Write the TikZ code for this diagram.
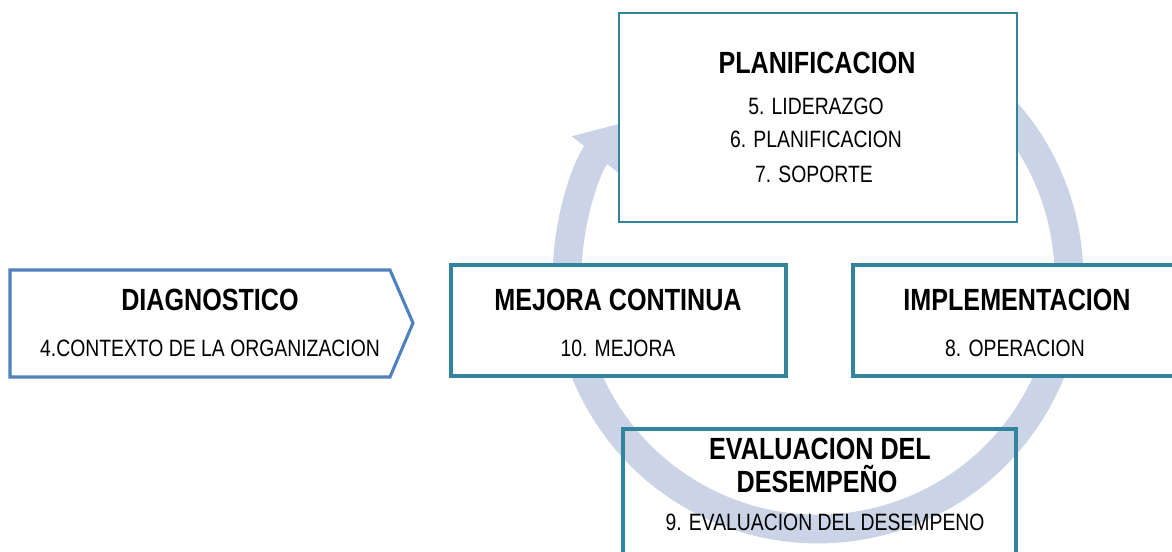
\documentclass[tikz,border=0pt]{standalone}
\usepackage{fontspec}
\setmainfont{Liberation Sans}[FakeStretch=0.82]
\usetikzlibrary{arrows.meta}
\begin{document}
\begin{tikzpicture}[x=0.025cm,y=0.025cm,
  titulo/.style={font=\fontsize{21.8}{26}\selectfont\bfseries,anchor=base,inner sep=0pt},
  item/.style={font=\fontsize{16.8}{20}\selectfont,anchor=base,inner sep=0pt},
  caja/.style={draw=caja_azul,line width=2.2pt},
  anillo/.style={draw=anillo_gris,line width=0.72cm,-{Triangle[width=1.45cm,length=1cm]}}]
\definecolor{caja_azul}{HTML}{31849B}
\definecolor{flecha_azul}{HTML}{4F81BD}
\definecolor{anillo_gris}{HTML}{CBD4E7}

\clip (0,0) rectangle (1172,552);

\coordinate (centro) at (818,274);
\draw[anillo] (centro) ++(60:251) arc[start angle=60,end angle=-218,radius=251];%el ciclo

\filldraw[fill=white,draw=flecha_azul,line width=2.2pt] (10,282) -- (390,282) -- (413,229) -- (390,175) -- (10,175) -- cycle;%la flecha del diagnostico
\filldraw[fill=white,draw=caja_azul,line width=1.2pt] (619,539) rectangle (1017,330);%caja planificacion
\filldraw[fill=white,caja] (451,287) rectangle (786,176);%caja mejora
\filldraw[fill=white,caja] (853,287) rectangle (1185,176);%caja implementacion
\draw[caja] (623,123) rectangle (1016,-10);%caja evaluacion

\node[titulo] (diag) at (210,241) {DIAGNOSTICO};
\node[item] (contexto) at (210,195) {4.CONTEXTO DE LA ORGANIZACION};

\node[titulo] (planif) at (817,478) {PLANIFICACION};
\node[item] (liderazgo) at (816,437) {5. LIDERAZGO};
\node[item] (planif_item) at (816,404) {6. PLANIFICACION};
\node[item] (soporte) at (814,369) {7. SOPORTE};

\node[titulo] (mejora) at (618,241) {MEJORA CONTINUA};
\node[item] (mejora_item) at (618,195) {10. MEJORA};

\node[titulo] (implem) at (1017,241) {IMPLEMENTACION};
\node[item] (operacion) at (1015,195) {8. OPERACION};

\node[titulo] (eval) at (820,92) {EVALUACION DEL};
\node[titulo] (desemp) at (817,59) {DESEMPEÑO};
\node[item] (eval_item) at (825,21) {9. EVALUACION DEL DESEMPENO};

\end{tikzpicture}
\end{document}
